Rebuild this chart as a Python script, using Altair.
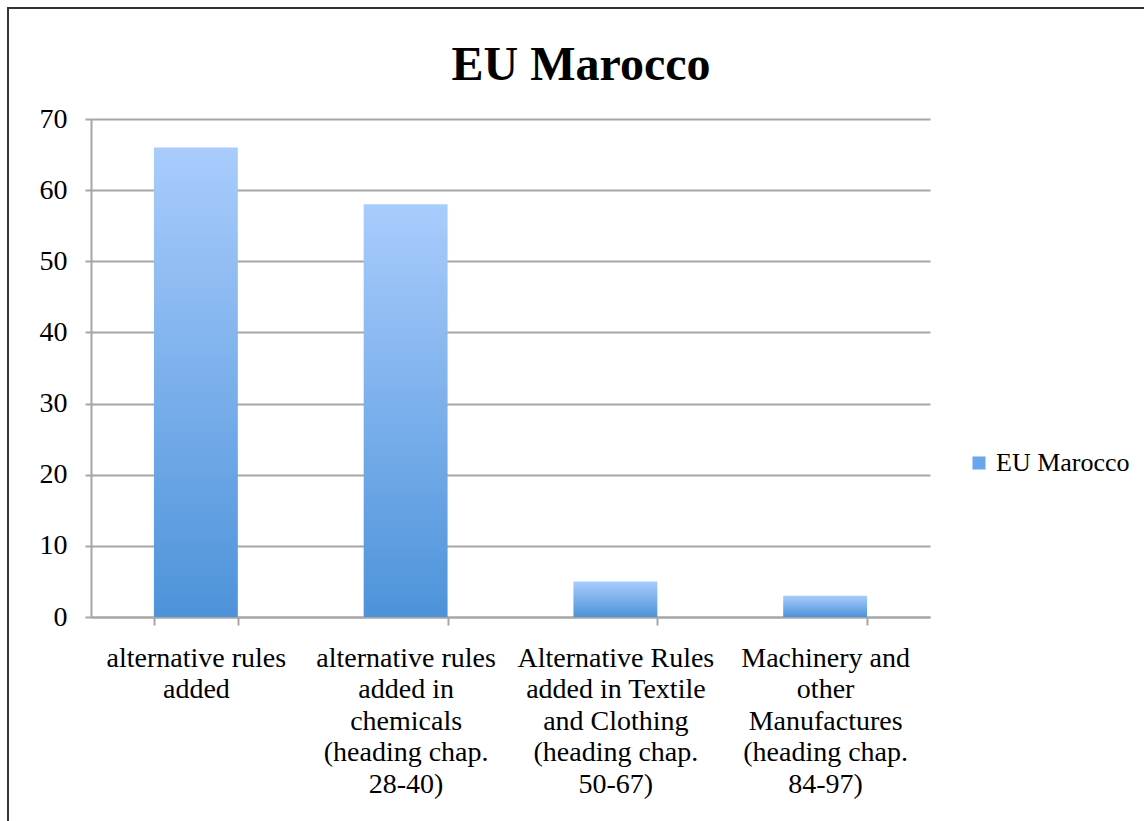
import altair as alt
import pandas as pd

categories = [
    "alternative rules\nadded",
    "alternative rules\nadded in\nchemicals\n(heading chap.\n28-40)",
    "Alternative Rules\nadded in Textile\nand Clothing\n(heading chap.\n50-67)",
    "Machinery and\nother\nManufactures\n(heading chap.\n84-97)",
]
values = [66, 58, 5, 3]
series_name = "EU Marocco"
title_text = "EU Marocco"
y_ticks = [0, 10, 20, 30, 40, 50, 60, 70]

df = pd.DataFrame({"cat": categories, "v": values, "series": [series_name] * 4})
legend_df = pd.DataFrame({"cat": [categories[0]], "v": [0], "series": [series_name]})
one_df = pd.DataFrame({"t": [title_text]})

FONT = "Liberation Serif"
GRID = "#a6a6a6"

x_enc = alt.X(
    "cat:N",
    sort=categories,
    title=None,
    scale=alt.Scale(paddingInner=0.6, paddingOuter=0.3),
    axis=alt.Axis(
        labelAngle=0,
        labelExpr="split(datum.label, '\\n')",
        labelLineHeight=31.5,
        labelLimit=0,
        labelOverlap=False,
        labelBaseline="top",
        labelPadding=19,
        tickBand="extent",
        tickSize=8,
        grid=False,
    ),
)
y_enc = alt.Y(
    "v:Q",
    title=None,
    scale=alt.Scale(domain=[0, 70], nice=False),
    axis=alt.Axis(
        values=y_ticks,
        labelPadding=18,
        tickSize=6,
        gridColor=GRID,
        gridWidth=2,
    ),
)

gradient = alt.LinearGradient(
    gradient="linear",
    stops=[
        alt.GradientStop(color="#4d93da", offset=0),
        alt.GradientStop(color="#a9ccfc", offset=1),
    ],
    x1=0, x2=0, y1=1, y2=0,
)

legend_layer = alt.Chart(legend_df).mark_bar().encode(
    x=x_enc,
    y=y_enc,
    color=alt.Color(
        "series:N",
        scale=alt.Scale(range=["#6aa7ea"]),
        legend=alt.Legend(
            title=None,
            orient="none",
            legendX=875,
            legendY=331,
            symbolType="square",
            symbolSize=170,
            symbolStrokeWidth=0,
            labelOffset=4,
            labelFontSize=26,
        ),
    ),
)

bars = alt.Chart(df).mark_bar(fill=gradient).encode(x=x_enc, y=y_enc)

frame = alt.Chart(one_df).mark_rect(
    fill=None, stroke="#333333", strokeWidth=2, clip=False
).encode(
    x=alt.value(-83), x2=alt.value(2000),
    y=alt.value(-111), y2=alt.value(2000),
)

title = alt.Chart(one_df).mark_text(
    font=FONT, fontSize=48, fontWeight="bold", color="#000000",
    align="center", baseline="alphabetic", clip=False,
).encode(
    text="t:N",
    x=alt.value(490),
    y=alt.value(-39),
)

chart = (
    alt.layer(legend_layer, bars, frame, title)
    .properties(
        width=839,
        height=498,
        background="white",
        padding={"left": 91, "top": 119, "right": 214, "bottom": 204},
        autosize=alt.AutoSizeParams(type="none"),
    )
    .configure(font=FONT)
    .configure_axis(
        labelFont=FONT,
        labelFontSize=28,
        labelColor="#000000",
        tickColor=GRID,
        tickWidth=2,
        domainColor=GRID,
        domainWidth=2,
    )
    .configure_legend(
        labelFont=FONT,
        labelFontSize=26,
        labelColor="#000000",
    )
    .configure_view(stroke=None)
)

chart.save("out.html", embed_options={"renderer": "svg", "actions": False})
